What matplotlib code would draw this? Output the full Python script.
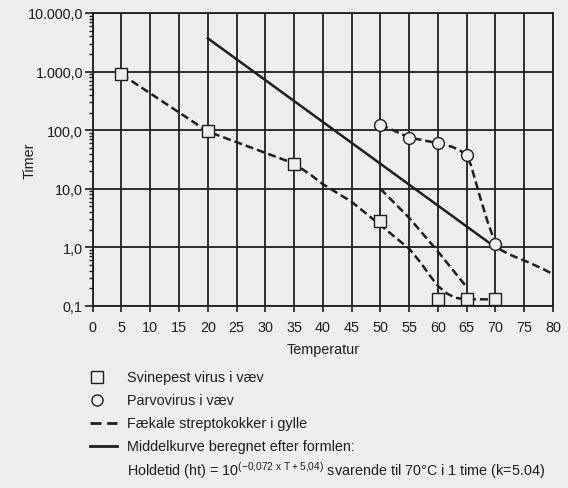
import numpy as np
import matplotlib.pyplot as plt
from matplotlib.lines import Line2D
from matplotlib.ticker import FixedLocator, LogLocator, NullFormatter

plt.rcParams['font.family'] = ['Liberation Sans', 'DejaVu Sans']

# Data
svine_T = [5, 20, 35, 50, 60, 65, 70]
svine_ht = [900, 95, 27, 2.8, 0.13, 0.13, 0.13]

parvo_T = [50, 55, 60, 65, 70]
parvo_ht = [125, 75, 60, 38, 1.15]

# dashed curves (faecal streptococci / fitted lines)
curve1_T = [5, 20, 35, 38, 40, 45, 50, 55, 57, 58.5, 60, 61.5, 63, 65, 70]
curve1_ht = [900, 95, 27, 17, 12, 6, 2.4, 0.95, 0.55, 0.34, 0.22, 0.165, 0.138, 0.13, 0.13]

curve2_T = [50, 55, 60, 65]
curve2_ht = [10, 3.2, 0.85, 0.21]

curve3_T = [50, 55, 60, 62.5, 64, 65, 65.7, 66.4, 67.4, 68.6, 70, 71, 72.5, 75.5, 78, 80]
curve3_ht = [125, 75, 60, 52, 44, 36, 26, 15, 6.8, 2.8, 1.15, 0.9, 0.75, 0.57, 0.44, 0.35]

# middle curve
mid_T = [20, 70]
mid_ht = [3700, 1.0]

x_ticks = list(range(0, 81, 5))
y_ticks = [0.1, 1, 10, 100, 1000, 10000]
y_labels = ['0,1', '1,0', '10,0', '100,0', '1.000,0', '10.000,0']

bg = '#eeeeec'
ink = '#1e1e1e'
fs = 10.4

fig = plt.figure(figsize=(5.68, 4.89), dpi=100, facecolor=bg)
ax = fig.add_axes([0.1632, 0.3722, 0.8104, 0.5992], facecolor=bg)

dash = (0, (3.2, 1.6))
ax.plot(curve1_T, curve1_ht, color=ink, lw=1.8, linestyle=dash)
ax.plot(curve2_T, curve2_ht, color=ink, lw=1.8, linestyle=dash)
ax.plot(curve3_T, curve3_ht, color=ink, lw=1.8, linestyle=dash)
ax.plot(mid_T, mid_ht, color=ink, lw=1.8)

ax.plot(svine_T, svine_ht, linestyle='none', marker='s', ms=8.5,
        mfc=bg, mec=ink, mew=1.0, zorder=5)
ax.plot(parvo_T, parvo_ht, linestyle='none', marker='o', ms=8.5,
        mfc=bg, mec=ink, mew=1.0, zorder=5)

ax.set_yscale('log')
ax.set_xlim(0, 80)
ax.set_ylim(0.1, 10000)
ax.xaxis.set_major_locator(FixedLocator(x_ticks))
ax.set_xticklabels([str(t) for t in x_ticks], fontsize=fs, color=ink)
ax.yaxis.set_major_locator(FixedLocator(y_ticks))
ax.set_yticklabels(y_labels, fontsize=fs, color=ink)
ax.yaxis.set_minor_locator(LogLocator(base=10, subs=np.arange(2, 10)))
ax.yaxis.set_minor_formatter(NullFormatter())

ax.tick_params(axis='x', direction='out', length=4, width=1.2, color=ink, pad=6)
ax.tick_params(axis='y', which='major', direction='out', length=6, width=1.2, color=ink, pad=1)
ax.tick_params(axis='y', which='minor', direction='out', length=3, width=1.0, color=ink)

ax.grid(True, which='major', color=ink, lw=1.3)
for s in ax.spines.values():
    s.set_color(ink)
    s.set_linewidth(1.3)

ax.set_xlabel('Temperatur', fontsize=fs, color=ink, labelpad=6)
ax.set_ylabel('Timer', fontsize=fs, color=ink)
ax.yaxis.set_label_coords(-0.122, 0.5)

# legend drawn below the plot
W, H = 568.0, 489.0
tf = fig.transFigure


def fx(px):
    return px / W


def fy(py):
    return 1 - py / H


rows = [378, 401, 424, 447, 471]
fig.add_artist(Line2D([fx(97)], [fy(rows[0])], marker='s', ms=8, mfc=bg, mec=ink,
                      mew=1.0, transform=tf))
fig.add_artist(Line2D([fx(97)], [fy(rows[1])], marker='o', ms=8, mfc=bg, mec=ink,
                      mew=1.0, transform=tf))
fig.add_artist(Line2D([fx(90), fx(117)], [fy(rows[2])] * 2, color=ink, lw=2,
                      linestyle=(0, (4, 2)), transform=tf))
fig.add_artist(Line2D([fx(90), fx(117)], [fy(rows[3])] * 2, color=ink, lw=2,
                      transform=tf))

labels = ['Svinepest virus i væv',
          'Parvovirus i væv',
          'Fækale streptokokker i gylle',
          'Middelkurve beregnet efter formlen:',
          r'Holdetid (ht) = 10$^{\mathregular{(-0{,}072\ x\ T+5{,}04)}}$'
          ' svarende til 70°C i 1 time (k=5.04)']
for r, lab in zip(rows, labels):
    fig.text(fx(127), fy(r), lab, fontsize=fs, color=ink, va='center', ha='left')

fig.savefig('out.png', dpi=100, facecolor=bg)
